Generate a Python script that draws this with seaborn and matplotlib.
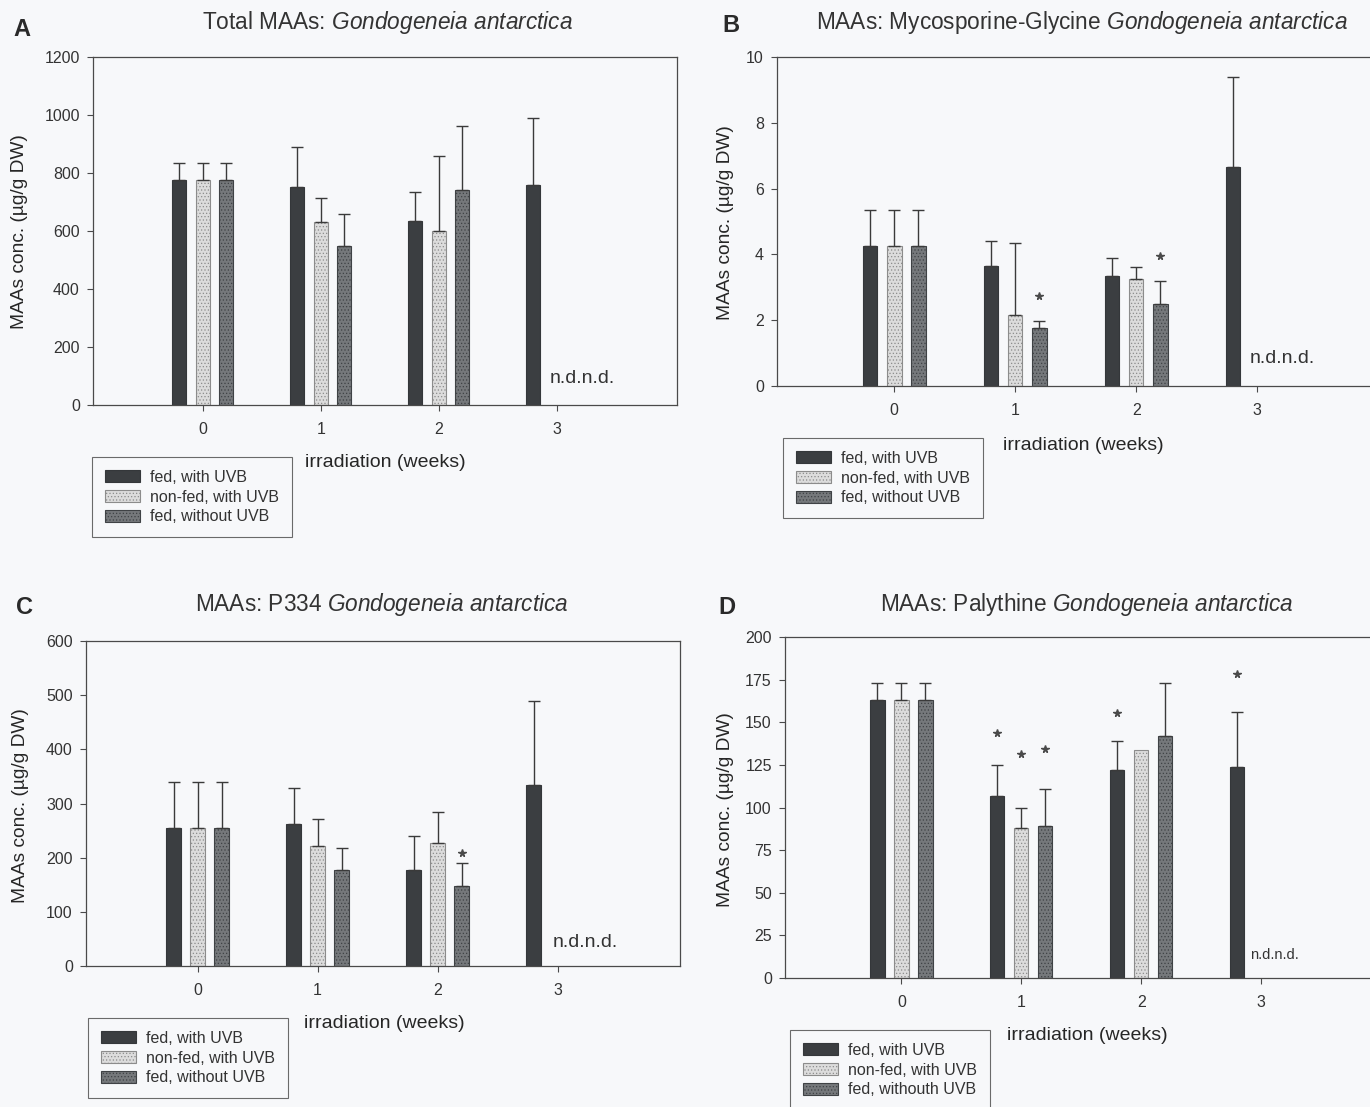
import numpy as np
import pandas as pd
import matplotlib
matplotlib.use("Agg")
import matplotlib.pyplot as plt
import seaborn as sns
from matplotlib.patches import Patch

"""
MAA concentrations in Gondogeneia antarctica, 4 panels
"""

weeks = ["0", "1", "2", "3"]
groups = ["fed, with UVB", "non-fed, with UVB", "fed, without UVB"]
nan = np.nan

## A: total MAAs (ug/g DW), mean and upper sd
tot_fed = [775, 750, 635, 760]
tot_nonfed = [775, 630, 600, nan]
tot_without = [775, 548, 740, nan]
tot_fed_sd = [60, 140, 100, 230]
tot_nonfed_sd = [60, 85, 260, nan]
tot_without_sd = [60, 112, 222, nan]

## B: mycosporine-glycine
gly_fed = [4.25, 3.65, 3.35, 6.65]
gly_nonfed = [4.25, 2.15, 3.25, nan]
gly_without = [4.25, 1.75, 2.5, nan]
gly_fed_sd = [1.1, 0.75, 0.55, 2.75]
gly_nonfed_sd = [1.1, 2.2, 0.37, nan]
gly_without_sd = [1.1, 0.23, 0.7, nan]

## C: P334
p334_fed = [255, 262, 178, 335]
p334_nonfed = [255, 222, 228, nan]
p334_without = [255, 178, 148, nan]
p334_fed_sd = [85, 66, 62, 155]
p334_nonfed_sd = [85, 50, 57, nan]
p334_without_sd = [85, 40, 42, nan]

## D: palythine
paly_fed = [163, 107, 122, 124]
paly_nonfed = [163, 88, 134, nan]
paly_without = [163, 89, 142, nan]
paly_fed_sd = [10, 18, 17, 32]
paly_nonfed_sd = [10, 12, nan, nan]
paly_without_sd = [10, 22, 31, nan]

## significance stars: (week, group index, height)
stars_B = [("1", 2, 2.74), ("2", 2, 3.95)]
stars_C = [("2", 2, 208)]
stars_D = [("1", 0, 143.5), ("1", 1, 131.5), ("1", 2, 134.5),
           ("2", 0, 155.5), ("3", 0, 178.5)]

legend_D = ["fed, with UVB", "non-fed, with UVB", "fed, withouth UVB"]

bg = "#f7f8fa"
palette = {groups[0]: "#3b3e41", groups[1]: "#dcdcdc", groups[2]: "#75787b"}
edges = {groups[0]: "#34373a", groups[1]: "#8c8c8c", groups[2]: "#3f4245"}
hatches = {groups[0]: None, groups[1]: ".....", groups[2]: "....."}

sns.set_style("ticks")
plt.rcParams["font.family"] = ["Liberation Sans", "DejaVu Sans"]
plt.rcParams["mathtext.fontset"] = "custom"
plt.rcParams["mathtext.rm"] = "Liberation Sans"
plt.rcParams["mathtext.it"] = "Liberation Sans:italic"
plt.rcParams["hatch.linewidth"] = 0.5
plt.rcParams["axes.edgecolor"] = "#4a4a4a"
plt.rcParams["xtick.color"] = "#4a4a4a"
plt.rcParams["ytick.color"] = "#4a4a4a"
plt.rcParams["text.color"] = "#333333"
plt.rcParams["xtick.labelcolor"] = "#333333"
plt.rcParams["ytick.labelcolor"] = "#333333"


def panel_df(means, sds):
    rows = []
    for grp, m, s in zip(groups, means, sds):
        for wk, v, e in zip(weeks, m, s):
            rows.append((wk, grp, v, e))
    return pd.DataFrame(rows, columns=["week", "group", "conc", "sd"])


def pl_panel(ax, df, yticks, xlim, stars=(), nd=None, nd_size=14,
             leg_labels=groups, leg_anchor=None, xl_coords=None, yl_coords=None):
    sns.barplot(data=df, x="week", y="conc", hue="group", order=weeks,
                hue_order=groups, palette=palette, width=0.6, gap=0.4,
                errorbar=None, saturation=1, legend=False, ax=ax)
    ax.set_facecolor(bg)
    bar_x = {}
    for gi, (grp, cont) in enumerate(zip(groups, ax.containers)):
        sub = df[df.group == grp].dropna(subset=["conc"])
        for (wk, v, e), p in zip(sub[["week", "conc", "sd"]].values, cont.patches):
            p.set_edgecolor(edges[grp])
            p.set_linewidth(0.8)
            if hatches[grp]:
                p.set_hatch(hatches[grp])
            xc = p.get_x() + p.get_width() / 2
            bar_x[(wk, gi)] = xc
            if not np.isnan(e):
                ax.errorbar([xc], [v], yerr=[[0], [e]], fmt="none",
                            ecolor="#3a3a3a", elinewidth=1.0, capsize=4.5,
                            capthick=1.0, zorder=1)
    for wk, gi, yy in stars:
        ax.plot(bar_x[(wk, gi)], yy, marker="*", ms=5.5, color="#4a4a4a",
                ls="none")
    if nd is not None:
        ax.text(nd[0], nd[1], "n.d.n.d.", fontsize=nd_size, va="center",
                ha="left", color="#333333")
    ax.set_xlim(xlim)
    ax.set_ylim(yticks[0], yticks[-1])
    ax.set_yticks(yticks)
    ax.tick_params(labelsize=11.5, length=4, width=0.8)
    ax.tick_params(axis="x", pad=8)
    ax.tick_params(axis="y", pad=5.5)
    for sp in ax.spines.values():
        sp.set_visible(True)
        sp.set_linewidth(0.9)
    ax.set_xlabel("irradiation (weeks)", fontsize=14, va="top")
    ax.set_ylabel(u"MAAs conc. (\u00b5g/g DW)", fontsize=13.8)
    ax.xaxis.set_label_coords(*xl_coords)
    ax.yaxis.set_label_coords(*yl_coords)
    handles = [Patch(facecolor=palette[g], edgecolor=edges[g], hatch=hatches[g],
                     linewidth=0.8, label=l) for g, l in zip(groups, leg_labels)]
    leg = ax.legend(handles=handles, loc="upper left", bbox_to_anchor=leg_anchor,
                    bbox_transform=ax.figure.transFigure, borderaxespad=0,
                    fontsize=11.5, frameon=True, fancybox=False, framealpha=1,
                    edgecolor="#6a6a6a", facecolor=bg, handlelength=2.2,
                    handleheight=0.75, handletextpad=0.62, labelspacing=0.3,
                    borderpad=0.8)
    leg.get_frame().set_linewidth(0.8)
    return ax


W, H = 1370, 1107
fig = plt.figure(figsize=(W / 100, H / 100), dpi=100, facecolor=bg)


def fig_axes(l, r, t, b):
    return fig.add_axes([l / W, 1 - b / H, (r - l) / W, (b - t) / H])


axA = fig_axes(93, 677, 57, 405)
axB = fig_axes(777, 1378, 57, 386)
axC = fig_axes(86, 680, 641, 966)
axD = fig_axes(785, 1381, 637, 978)

pl_panel(axA, panel_df([tot_fed, tot_nonfed, tot_without],
                       [tot_fed_sd, tot_nonfed_sd, tot_without_sd]),
         np.arange(0, 1201, 200), (-0.93, 4.02), nd=(2.94, 90),
         leg_anchor=(92 / W, 1 - 457 / H), xl_coords=(0.50, -0.141),
         yl_coords=(-0.111, 0.497))
pl_panel(axB, panel_df([gly_fed, gly_nonfed, gly_without],
                       [gly_fed_sd, gly_nonfed_sd, gly_without_sd]),
         np.arange(0, 11, 2), (-0.97, 4.0), stars=stars_B, nd=(2.94, 0.85),
         leg_anchor=(783 / W, 1 - 438 / H), xl_coords=(0.509, -0.155),
         yl_coords=(-0.072, 0.498))
pl_panel(axC, panel_df([p334_fed, p334_nonfed, p334_without],
                       [p334_fed_sd, p334_nonfed_sd, p334_without_sd]),
         np.arange(0, 601, 100), (-0.93, 4.02), stars=stars_C, nd=(2.96, 44),
         leg_anchor=(88 / W, 1 - 1018 / H), xl_coords=(0.503, -0.151),
         yl_coords=(-0.096, 0.495))
pl_panel(axD, panel_df([paly_fed, paly_nonfed, paly_without],
                       [paly_fed_sd, paly_nonfed_sd, paly_without_sd]),
         np.arange(0, 201, 25), (-0.97, 4.0), stars=stars_D, nd=(2.91, 13.5),
         nd_size=10.5, leg_labels=legend_D, leg_anchor=(790 / W, 1 - 1030 / H),
         xl_coords=(0.507, -0.144), yl_coords=(-0.086, 0.493))

## titles and panel letters
sp = r"\ "
titles = [
    (387, 23, "Total MAAs: $\\mathit{Gondogeneia" + sp + "antarctica}$"),
    (1082, 22, "MAAs: Mycosporine-Glycine $\\mathit{Gondogeneia" + sp + "antarctica}$"),
    (382, 605, "MAAs: P334 $\\mathit{Gondogeneia" + sp + "antarctica}$"),
    (1087, 605, "MAAs: Palythine $\\mathit{Gondogeneia" + sp + "antarctica}$"),
]
for x, y, t in titles:
    fig.text(x / W, 1 - y / H, t, fontsize=16.3, ha="center", va="center")
for x, y, t in [(22, 30, "A"), (731, 25, "B"), (25, 607, "C"), (727, 607, "D")]:
    fig.text(x / W, 1 - y / H, t, fontsize=17, fontweight="bold", ha="center",
             va="center", color="#2a2a2a")

fig.savefig("out.png", dpi=100, facecolor=bg)
